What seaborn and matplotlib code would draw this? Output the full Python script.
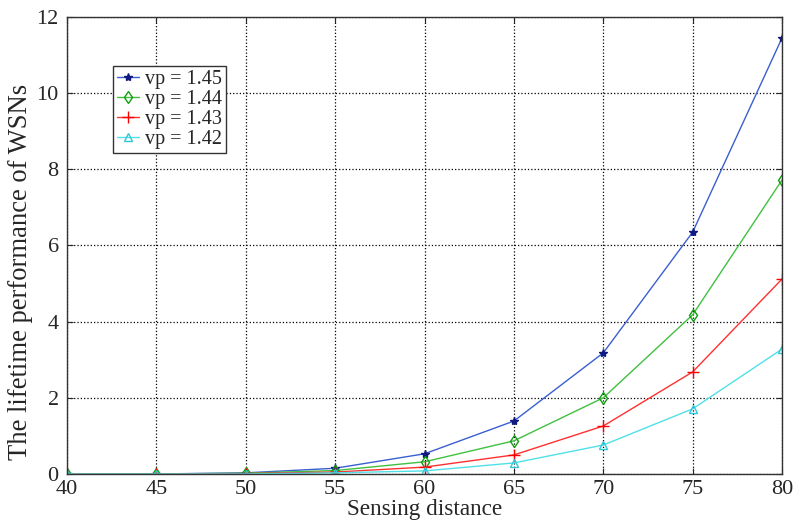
import numpy as np
import pandas as pd
import matplotlib
matplotlib.use('Agg')
import matplotlib.pyplot as plt
import seaborn as sns

# sensing distance and lifetime values
distance = [40, 45, 50, 55, 60, 65, 70, 75, 80]
vp145 = [0.0, 0.0, 0.03, 0.15, 0.53, 1.39, 3.18, 6.35, 11.45]
vp144 = [0.0, 0.0, 0.02, 0.09, 0.32, 0.87, 2.00, 4.18, 7.72]
vp143 = [0.0, 0.0, 0.01, 0.05, 0.18, 0.50, 1.26, 2.68, 5.12]
vp142 = [0.0, 0.0, 0.0, 0.03, 0.08, 0.29, 0.76, 1.71, 3.28]

labels = ['vp = 1.45', 'vp = 1.44', 'vp = 1.43', 'vp = 1.42']
series = [vp145, vp144, vp143, vp142]

sns.set_style('ticks')
plt.rcParams['font.family'] = ['Liberation Serif', 'DejaVu Serif']

fig = plt.figure(figsize=(7.95, 5.22), dpi=100)
ax = fig.add_axes([0.0843, 0.092, 0.8994, 0.8755])

styles = [
    dict(color='#3a5fd0', marker='*', markersize=6, markeredgecolor='#101a80', markerfacecolor='#101a80'),
    dict(color='#40c040', marker='d', markersize=6, markeredgecolor='#10a010', markerfacecolor='none'),
    dict(color='#ff3030', marker='+', markersize=8, markeredgecolor='#ff0000', markerfacecolor='none'),
    dict(color='#50e0e8', marker='^', markersize=6, markeredgecolor='#30c8d8', markerfacecolor='none'),
]

for lab, vals, st in zip(labels, series, styles):
    df = pd.DataFrame({'distance': distance, 'lifetime': vals})
    sns.lineplot(data=df, x='distance', y='lifetime', ax=ax, label=lab,
                 linewidth=1.0, markeredgewidth=1.0, **st)

ax.set_xlim(40, 80)
ax.set_ylim(0, 12)
ax.set_xticks(np.arange(40, 81, 5))
ax.set_yticks(np.arange(0, 13, 2))
ax.grid(True, linestyle=':', color='black', linewidth=0.9)
ax.tick_params(direction='in', labelsize=16, length=4, pad=6, top=True, right=True)
ax.tick_params(axis='x', pad=4)
for sp in ax.spines.values():
    sp.set_visible(True)
    sp.set_color('#333333')
    sp.set_linewidth(1.0)

ax.set_xlabel('Sensing distance', fontsize=16.7, labelpad=0)
ax.set_ylabel('The lifetime performance of WSNs', fontsize=19.2)
ax.yaxis.set_label_coords(-0.047, 0.442)

leg = ax.legend(loc='upper left', bbox_to_anchor=(0.064, 0.893), borderaxespad=0,
                fontsize=14.5, fancybox=False, framealpha=1, edgecolor='#333333',
                handlelength=1.1, handletextpad=0.3, labelspacing=0.05, borderpad=0.2)
leg.get_frame().set_linewidth(1.0)

fig.savefig('out.png', dpi=100)
